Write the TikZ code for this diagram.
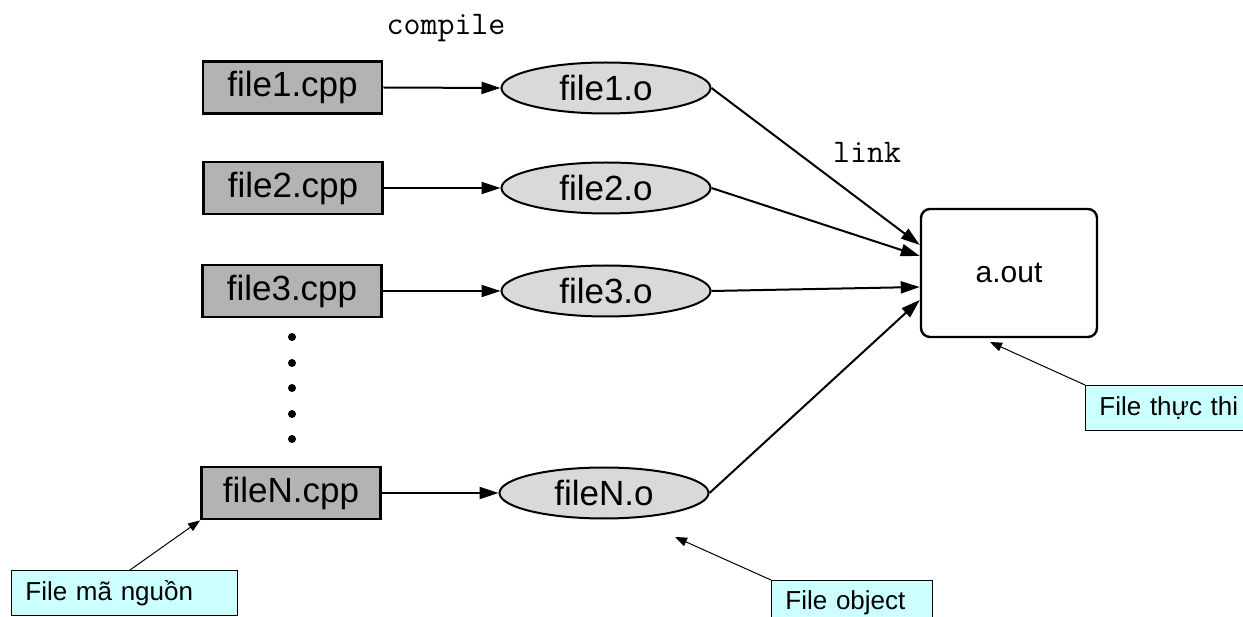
\documentclass[tikz,border=0pt]{standalone}
\usepackage{fontspec}
\setmainfont{Liberation Sans}
\newfontfamily\monofnt{Latin Modern Mono}
\usetikzlibrary{arrows.meta,shapes.geometric,calc}
\definecolor{srcgray}{HTML}{B3B3B3}
\definecolor{objgray}{HTML}{D9D9D9}
\definecolor{notecyan}{HTML}{CCFFFF}
\begin{document}
\begin{tikzpicture}[x=1pt,y=-1pt,
  srcbox/.style={draw=black,line width=2.8pt,fill=srcgray,minimum width=179pt,minimum height=52pt,inner sep=0pt,font=\fontsize{35}{40}\selectfont},
  objell/.style={ellipse,draw=black,line width=2pt,fill=objgray,minimum width=209pt,minimum height=51pt,inner sep=0pt,font=\fontsize{35}{40}\selectfont},
  outbox/.style={draw=black,line width=2.4pt,fill=white,rounded corners=9pt,minimum width=176pt,minimum height=128pt,inner sep=0pt,font=\fontsize{30}{36}\selectfont},
  flow/.style={line width=2pt,-{Triangle[length=19pt,width=12pt]}},
  note/.style={draw=black,line width=0.9pt,fill=notecyan,minimum height=45pt,inner xsep=14pt,inner ysep=0pt,align=left,anchor=north west,font=\fontsize{26}{30}\selectfont},
  pointer/.style={line width=1pt,-{Triangle[length=12pt,width=9pt]}},
  lbl/.style={font=\monofnt\fontsize{33}{38}\selectfont},
  dotmark/.style={fill=black}
]
\path[use as bounding box,clip] (0,0) rectangle (1243,617);
\fill[white] (0,0) rectangle (1243,617);

% source files
\node[srcbox] (f1c) at (292.5,87.5) {file1.cpp};
\node[srcbox] (f2c) at (293,188) {file2.cpp};
\node[srcbox] (f3c) at (292,291) {file3.cpp};
\node[srcbox] (fNc) at (291,493) {fileN.cpp};

% object files
\node[objell] (f1o) at (606,88) {file1.o};
\node[objell] (f2o) at (606,188) {file2.o};
\node[objell] (f3o) at (606,291) {file3.o};
\node[objell] (fNo) at (604,493) {fileN.o};

% executable
\node[outbox] (aout) at (1009,273) {a.out};

% labels
\node[lbl] (lcompile) at (446,28) {compile};
\node[lbl] (llink) at (867,152) {link};

% vertical dots
\foreach \yy in {337,363,388,414,439} \fill[dotmark] (292,\yy) circle (4pt);

% compile arrows
\draw[flow] (f1c.east) -- (f1o.west);
\draw[flow] (f2c.east) -- (f2o.west);
\draw[flow] (f3c.east) -- (f3o.west);
\draw[flow] (fNc.east) -- (fNo.west);

% link arrows
\draw[flow] (f1o.east) -- ($(aout.west)+(0,-28)$);
\draw[flow] (f2o.east) -- ($(aout.west)+(0,-17)$);
\draw[flow] (f3o.east) -- ($(aout.west)+(0,14)$);
\draw[flow] (fNo.east) -- ($(aout.west)+(0,27)$);

% callouts
\coordinate (coTip) at (675,537);
\coordinate (ftTip) at (990,342);
\node[note,text width=198pt] (cm) at (11,570) {File mã nguồn};
\node[note,text width=133pt] (co) at (771,580) {File object};
\node[note,text width=150pt] (ft) at (1085,385) {File thực thi};
\draw[pointer] ($(cm.north west)+(119,0)$) -- (fNc.south west);
\draw[pointer] (co.north west) -- (coTip);
\draw[pointer] (ft.north west) -- (ftTip);
\end{tikzpicture}
\end{document}
